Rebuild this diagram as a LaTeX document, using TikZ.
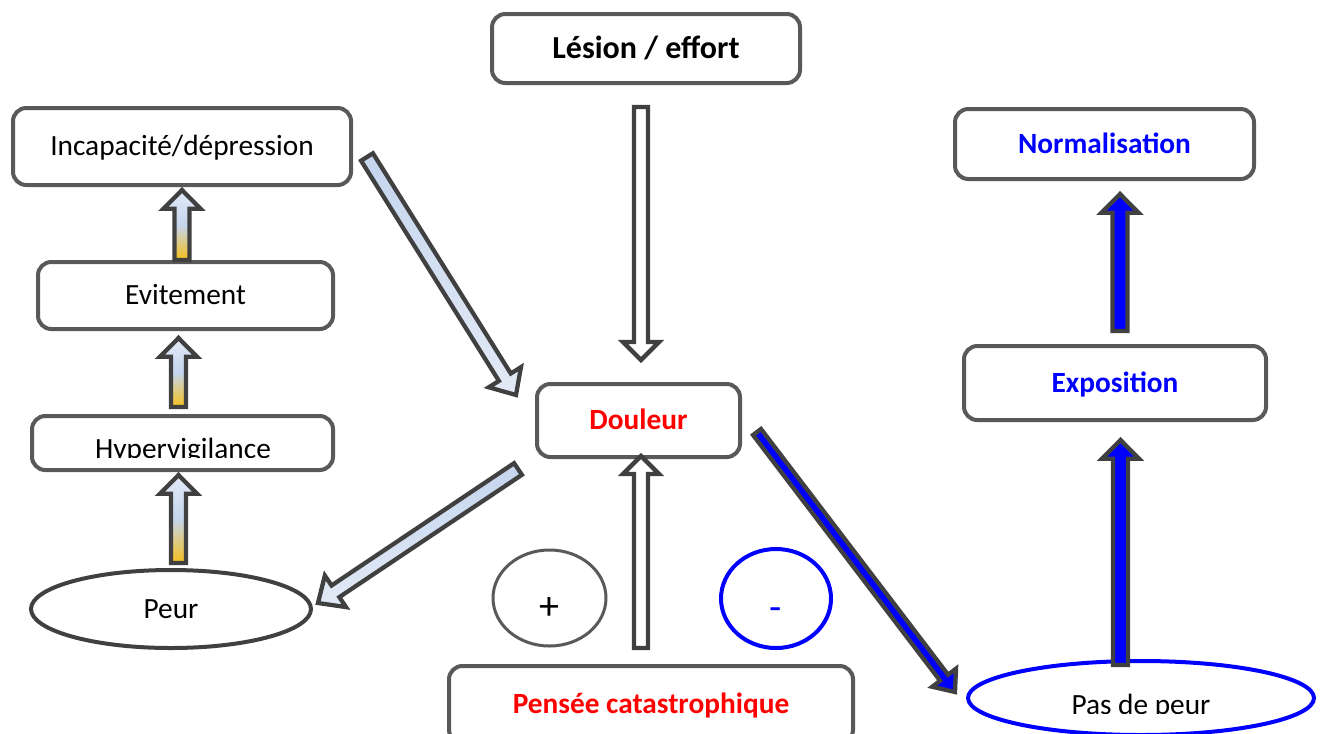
\documentclass[tikz,border=0pt]{standalone}
\usepackage{fontspec}
\setmainfont{Carlito}
\usetikzlibrary{calc}
\usetikzlibrary{positioning, shapes.geometric}

\definecolor{boxgray}{HTML}{595959}
\definecolor{arrowgray}{HTML}{404040}
\definecolor{paleblue}{HTML}{E3EAF6}
\definecolor{lightblue}{HTML}{C5D5EE}
\definecolor{goldfill}{HTML}{F5C01A}
\definecolor{pureblue}{HTML}{0000FF}
\definecolor{purered}{HTML}{FF0000}

\tikzset{
  box/.style={draw=boxgray, line width=3pt, rounded corners=10pt, fill=white, inner sep=0pt,
    font=\fontsize{22}{26}\selectfont, text height=14.2pt, text depth=0pt},
  oval/.style={ellipse, draw=arrowgray, line width=3pt, fill=white, inner sep=0pt,
    font=\fontsize{22}{26}\selectfont, text height=14.2pt, text depth=0pt},
  sign/.style={font=\fontsize{30}{34}\selectfont},
  cliptext/.style={font=\fontsize{22}{26}\selectfont, inner sep=0pt, anchor=base},
  hollow/.style={draw=arrowgray, line width=3.2pt, line join=miter, fill=white},
  paleflow/.style={draw=arrowgray, line width=3.2pt, line join=miter, top color=lightblue, bottom color=paleblue},
  goldflow/.style={draw=arrowgray, line width=3.2pt, line join=miter, top color=paleblue, bottom color=goldfill, middle color=lightblue},
  blueflow/.style={draw=arrowgray, line width=3.2pt, line join=miter, fill=pureblue},
}

% block arrow: style, from, to, shaft half width, head half width, head length
\newcommand{\blockarrow}[6]{%
  \coordinate (tipbase) at ($(#3)!#6!(#2)$);
  \draw[#1] ($(#2)!#4!90:(#3)$) -- ($(tipbase)!#4!-90:(#2)$) -- ($(tipbase)!#5!-90:(#2)$) -- (#3)
    -- ($(tipbase)!#5!90:(#2)$) -- ($(tipbase)!#4!90:(#2)$) -- ($(#2)!#4!-90:(#3)$) -- cycle;
}

\begin{document}
\begin{tikzpicture}[x=0.75pt,y=-0.75pt]
  \useasboundingbox (0,0) rectangle (1325,733);
  \clip (0,0) rectangle (1325,733);

  % boxes
  \node[box, minimum width=231pt, minimum height=51.75pt, font=\fontsize{24}{28}\selectfont\bfseries, text height=15.5pt] (lesion) at (646,48.5) {Lésion / effort};
  \node[box, minimum width=253.5pt, minimum height=57.75pt] (incap) at (182,146.5) {Incapacité/dépression};
  \node[box, minimum width=221.25pt, minimum height=50.25pt] (evit) at (185.5,295.5) {Evitement};
  \node[box, minimum width=225.75pt, minimum height=40.5pt] (hyper) at (182.5,443) {};
  \node[oval, minimum width=210pt, minimum height=58.5pt, text depth=-3pt] (peur) at (171,609) {Peur};
  \node[box, minimum width=152.25pt, minimum height=54.75pt, text=purered, font=\fontsize{22}{26}\selectfont\bfseries] (douleur) at (638.5,420.5) {Douleur};
  \node[box, minimum width=303pt, minimum height=57.75pt, text=purered, font=\fontsize{22}{26}\selectfont\bfseries] (pensee) at (651,704.5) {Pensée catastrophique};
  \node[oval, sign, draw=boxgray, line width=2.25pt, minimum width=84.75pt, minimum height=72pt, text height=32pt] (plus) at (549.5,598) {+};
  \node[oval, sign, draw=pureblue, text=pureblue, minimum width=82.5pt, minimum height=74.25pt, text height=33pt] (minus) at (776,598.5) {-};
  \node[box, minimum width=224.25pt, minimum height=52.5pt, text=pureblue, font=\fontsize{22}{26}\selectfont\bfseries] (norm) at (1104.5,144) {Normalisation};
  \node[box, minimum width=226.5pt, minimum height=55.5pt, text=pureblue, font=\fontsize{22}{26}\selectfont\bfseries] (expo) at (1115,383) {Exposition};
  \node[oval, draw=pureblue, minimum width=259.5pt, minimum height=55.5pt] (pasdepeur) at (1141,698) {};

  % texts cut by their boxes
  \begin{scope}
    \clip (hyper.north west) rectangle ($(hyper.east)+(0,14)$);
    \node[cliptext] (hypertxt) at (183,458) {Hypervigilance};
  \end{scope}
  \begin{scope}
    \clip ($(pasdepeur.west)+(0,-40)$) rectangle ($(pasdepeur.east)+(0,15)$);
    \node[cliptext] (pasdepeurtxt) at (1141,714) {Pas de peur};
  \end{scope}

  % arrow ends
  \coordinate (ld1) at ($(lesion.south)+(-5,22)$);
  \coordinate (ld2) at ($(douleur.north)+(2.5,-22)$);
  \coordinate (pd1) at ($(pensee.north)+(-10,-16)$);
  \coordinate (pd2) at ($(douleur.south)+(2.5,-3)$);
  \coordinate (id1) at ($(incap.east)+(14,10.5)$);
  \coordinate (id2) at ($(douleur.west)+(-19,-25.5)$);
  \coordinate (dp1) at ($(douleur.south west)+(-17,10)$);
  \coordinate (dp2) at ($(peur.east)+(5,-6)$);
  \coordinate (dn1) at ($(douleur.east)+(15,11.5)$);
  \coordinate (dn2) at ($(pasdepeur.west)+(-11,-6)$);
  \coordinate (ph1) at ($(peur.north)+(7.5,-5)$);
  \coordinate (ph2) at ($(hyper.south)+(-4,3)$);
  \coordinate (he1) at ($(hyper.north)+(-4,-7)$);
  \coordinate (he2) at ($(evit.south)+(-7,7)$);
  \coordinate (ei1) at ($(evit.north)+(-3.5,0)$);
  \coordinate (ei2) at ($(incap.south)+(0,3)$);
  \coordinate (nx1) at ($(pasdepeur.north)+(-20.5,6)$);
  \coordinate (nx2) at ($(expo.south)+(5.5,18)$);
  \coordinate (xn1) at ($(expo.north)+(5,-13)$);
  \coordinate (xn2) at ($(norm.south)+(15.5,13)$);

  % block arrows
  \blockarrow{hollow}{ld1}{ld2}{5.25pt}{13.5pt}{13.5pt}
  \blockarrow{hollow}{pd1}{pd2}{5.25pt}{13.5pt}{13.5pt}
  \blockarrow{paleflow}{id1}{id2}{5.25pt}{14.25pt}{15.75pt}
  \blockarrow{paleflow}{dp1}{dp2}{5.25pt}{14.25pt}{15.75pt}
  \blockarrow{blueflow}{dn1}{dn2}{3.75pt}{11.25pt}{13.5pt}
  \blockarrow{goldflow}{ph1}{ph2}{5.6pt}{13.9pt}{14pt}
  \blockarrow{goldflow}{he1}{he2}{5.6pt}{13.9pt}{14pt}
  \blockarrow{goldflow}{ei1}{ei2}{5.6pt}{13.9pt}{14pt}
  \blockarrow{blueflow}{nx1}{nx2}{5.6pt}{13.9pt}{14pt}
  \blockarrow{blueflow}{xn1}{xn2}{5.6pt}{13.9pt}{14pt}

\end{tikzpicture}
\end{document}
